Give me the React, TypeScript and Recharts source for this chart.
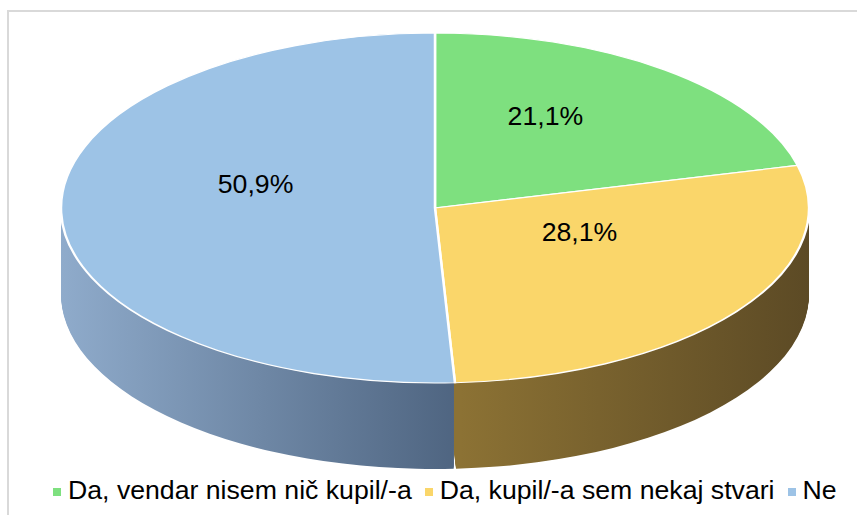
import { PieChart, Pie, Cell } from 'recharts';

const categories = ['Da, vendar nisem nič kupil/-a', 'Da, kupil/-a sem nekaj stvari', 'Ne'];
const shares = [21.1, 28.1, 50.9];
const topColors = ['#7EE07F', '#FAD66A', '#9DC3E6'];
const sideFrom = ['#5E9E5E', '#8C7234', '#8FABCB'];
const sideTo = ['#3F6E3F', '#5C4A25', '#4E6480'];

const data = categories.map((name, i) => ({ name, value: shares[i] }));

// the tilt is faked by squashing a flat pie vertically
const SCALE = 175 / 374;
const CX = 435;
const CY = 208 / SCALE;
const R = 374;
const DEPTH = 86 / SCALE;
const STEP = 2;
const layers = Array.from({ length: Math.ceil(DEPTH / STEP) }, (_, i) => DEPTH - i * STEP);

// x span of each side gradient
const gradX = [
  [435, 809],
  [460, 809],
  [61, 460],
];

const font = '"Liberation Sans", Arial, sans-serif';

const renderLabel = (props: any) => {
  const { cx, cy, midAngle, outerRadius, value } = props;
  const rad = Math.PI / 180;
  const k = 0.48;
  const x = cx + outerRadius * k * Math.cos(-midAngle * rad);
  const y = cy + outerRadius * k * Math.sin(-midAngle * rad) - 26 / SCALE;
  return (
    <text
      transform={`translate(${x},${y}) scale(1,${1 / SCALE})`}
      textAnchor='middle'
      dominantBaseline='central'
      fill='#000'
      style={{ fontFamily: font, fontSize: 26.67 }}
    >
      {value.toFixed(1).replace('.', ',') + '%'}
    </text>
  );
};

const App = () => {
  return (
    <div
      style={{
        position: 'absolute',
        left: 0,
        top: 0,
        width: 857,
        height: 515,
        overflow: 'hidden',
        background: '#fff',
      }}
    >
      <svg width={0} height={0} style={{ position: 'absolute' }}>
        <defs>
          {categories.map((c, i) => (
            <linearGradient
              key={c}
              id={`side${i}`}
              gradientUnits='userSpaceOnUse'
              x1={gradX[i][0]}
              y1={0}
              x2={gradX[i][1]}
              y2={0}
            >
              <stop offset='0%' stopColor={sideFrom[i]} />
              <stop offset='100%' stopColor={sideTo[i]} />
            </linearGradient>
          ))}
        </defs>
      </svg>
      <div
        style={{
          position: 'absolute',
          left: 7,
          top: 10,
          width: 900,
          height: 600,
          border: '2px solid #d9d9d9',
        }}
      />
      <div
        style={{
          position: 'absolute',
          left: 0,
          top: 0,
          transform: `scaleY(${SCALE})`,
          transformOrigin: '0 0',
        }}
      >
        <PieChart width={857} height={1050} margin={{ top: 0, right: 0, bottom: 0, left: 0 }}>
          {layers.map((d) => (
            <Pie
              key={d}
              data={data}
              dataKey='value'
              nameKey='name'
              cx={CX}
              cy={CY + d}
              outerRadius={R}
              startAngle={90}
              endAngle={-270}
              paddingAngle={0.35}
              stroke='none'
              isAnimationActive={false}
            >
              {data.map((e, i) => (
                <Cell key={e.name} fill={`url(#side${i})`} />
              ))}
            </Pie>
          ))}
          <Pie
            data={data}
            dataKey='value'
            nameKey='name'
            cx={CX}
            cy={CY}
            outerRadius={R}
            startAngle={90}
            endAngle={-270}
            stroke='#fff'
            strokeWidth={2.5}
            label={renderLabel}
            labelLine={false}
            isAnimationActive={false}
          >
            {data.map((e, i) => (
              <Cell key={e.name} fill={topColors[i]} />
            ))}
          </Pie>
        </PieChart>
      </div>
      <div
        style={{
          position: 'absolute',
          left: 53,
          top: 475,
          height: 30,
          display: 'flex',
          alignItems: 'center',
          fontFamily: font,
          fontSize: 26.67,
          color: '#000',
          whiteSpace: 'nowrap',
        }}
      >
        {categories.map((c, i) => (
          <div key={c} style={{ display: 'flex', alignItems: 'center', marginRight: 13 }}>
            <span
              style={{
                width: 8,
                height: 8,
                marginTop: 3,
                marginRight: 7,
                background: topColors[i],
                display: 'inline-block',
              }}
            />
            <span>{c}</span>
          </div>
        ))}
      </div>
    </div>
  );
};

export default App;
